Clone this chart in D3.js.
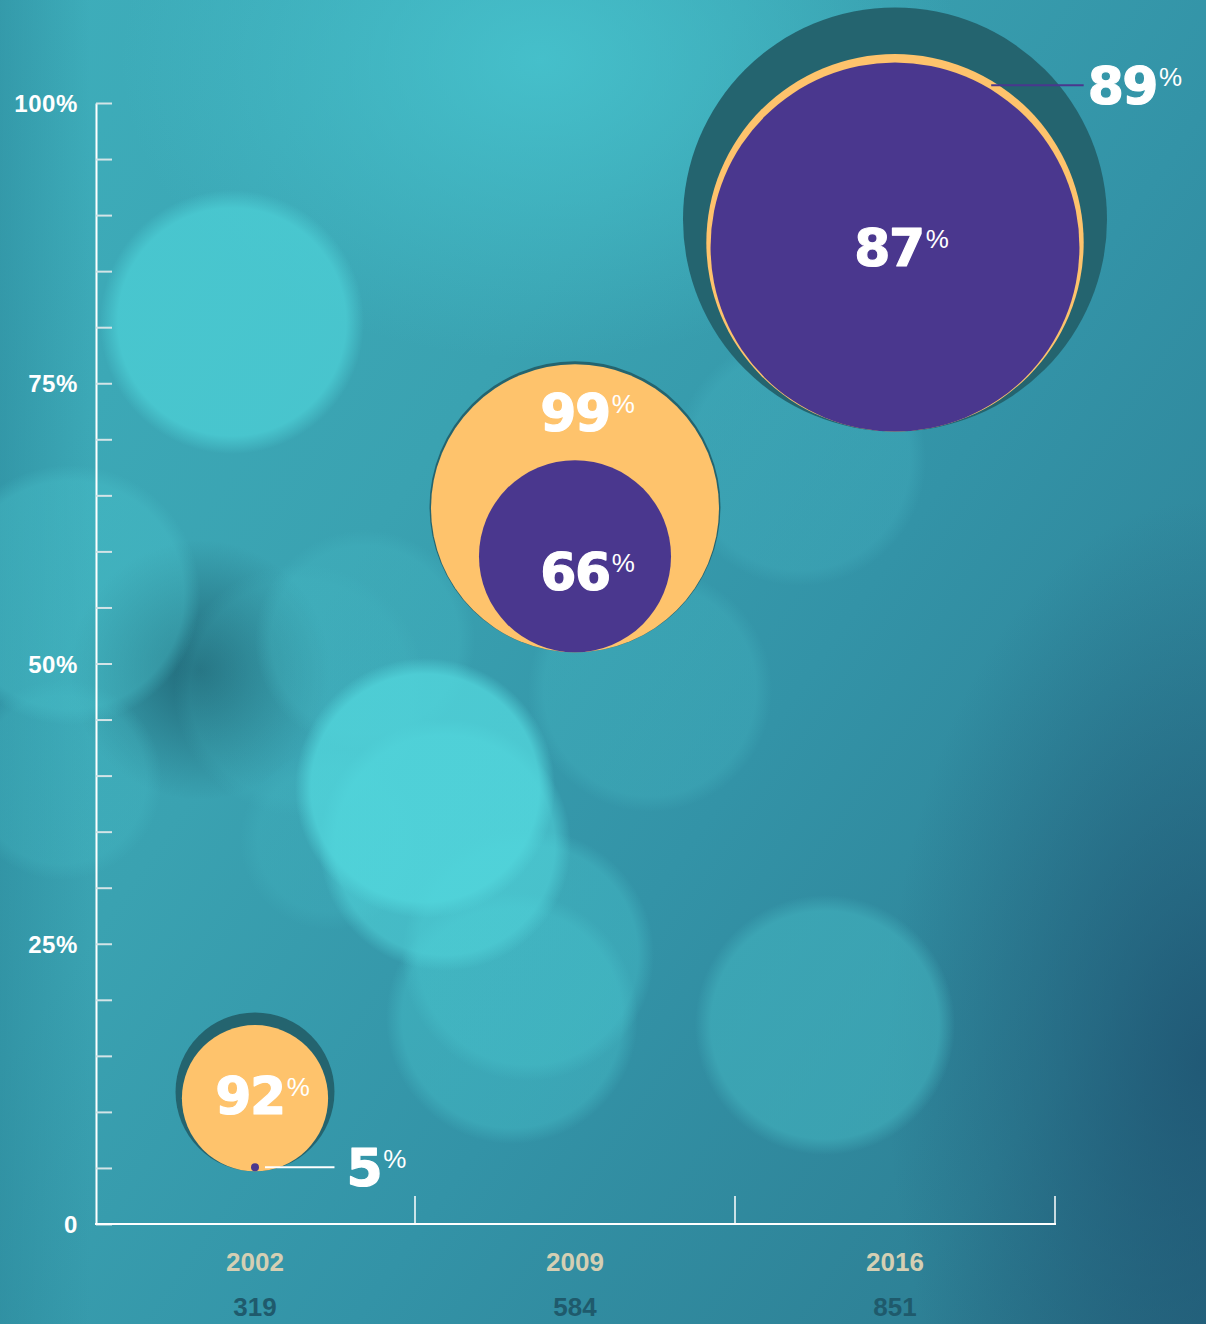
<!DOCTYPE html>
<html>
<head>
<meta charset="utf-8">
<script src="https://cdn.jsdelivr.net/npm/d3@7"></script>
<style>
html, body { margin: 0; padding: 0; }
body {
  width: 1206px; height: 1324px; overflow: hidden;
  background:
    radial-gradient(circle at 232px 322px, rgba(76,206,213,0.78) 0px, rgba(76,206,213,0.78) 114px, rgba(76,206,213,0) 132px),
    radial-gradient(circle at 425px 788px, rgba(82,214,220,0.78) 0px, rgba(82,214,220,0.78) 114px, rgba(82,214,220,0) 130px),
    radial-gradient(circle at 445px 845px, rgba(82,214,220,0.55) 0px, rgba(82,214,220,0.55) 110px, rgba(82,214,220,0) 126px),
    radial-gradient(circle at 528px 955px, rgba(72,196,205,0.40) 0px, rgba(72,196,205,0.40) 110px, rgba(72,196,205,0) 126px),
    radial-gradient(circle at 512px 1018px, rgba(72,196,205,0.40) 0px, rgba(72,196,205,0.40) 110px, rgba(72,196,205,0) 126px),
    radial-gradient(circle at 825px 1025px, rgba(66,178,190,0.62) 0px, rgba(66,178,190,0.62) 114px, rgba(66,178,190,0) 130px),
    radial-gradient(circle at 650px 690px, rgba(70,186,197,0.30) 0px, rgba(70,186,197,0.30) 106px, rgba(70,186,197,0) 122px),
    radial-gradient(circle at 365px 640px, rgba(70,186,197,0.30) 0px, rgba(70,186,197,0.30) 94px, rgba(70,186,197,0) 110px),
    radial-gradient(circle at 300px 690px, rgba(70,186,197,0.18) 0px, rgba(70,186,197,0.18) 110px, rgba(70,186,197,0) 126px),
    radial-gradient(circle at 800px 460px, rgba(70,182,196,0.30) 0px, rgba(70,182,196,0.30) 110px, rgba(70,182,196,0) 126px),
    radial-gradient(circle at 70px 595px, rgba(72,192,202,0.42) 0px, rgba(72,192,202,0.42) 114px, rgba(72,192,202,0) 130px),
    radial-gradient(circle at 62px 780px, rgba(72,192,202,0.25) 0px, rgba(72,192,202,0.25) 84px, rgba(72,192,202,0) 100px),
    radial-gradient(circle at 330px 840px, rgba(72,192,202,0.20) 0px, rgba(72,192,202,0.20) 72px, rgba(72,192,202,0) 90px),
    radial-gradient(circle at 200px 670px, rgba(24,84,100,0.75) 0px, rgba(24,84,100,0) 130px),
    radial-gradient(ellipse 420px 300px at 540px 60px, rgba(72,198,208,0.8), rgba(72,198,208,0)),
    radial-gradient(ellipse 320px 560px at 1206px 1060px, rgba(30,82,112,0.8), rgba(30,82,112,0)),
    linear-gradient(90deg, rgba(40,130,150,0.45) 0px, rgba(40,130,150,0) 90px),
    linear-gradient(125deg, #3eaebb 0%, #3aa2b1 35%, #3393a7 60%, #2e8297 85%, #276b83 100%);
}
svg { display: block; }
</style>
</head>
<body>
<svg id="chart" width="1206" height="1324"></svg>
<script>
// ---- data ----
const years = ["2002", "2009", "2016"];
const respondents = [319, 584, 851];
const outerPct = [92, 99, 89];     // yellow circles
const innerPct = [5, 66, 87];      // purple circles
const restLevel = [4.7, 51, 70.7]; // y-axis value on which each bubble group rests
const yTickValues = [0, 5, 10, 15, 20, 25, 30, 35, 40, 45, 50, 55, 60, 65, 70, 75, 80, 85, 90, 95, 100];
const yLabelValues = [0, 25, 50, 75, 100];
const yLabelText = ["0", "25%", "50%", "75%", "100%"];

// ---- styles ----
const C = { dark: "#24646f", yellow: "#fec36c", purple: "#4a378e", year: "#d5cfb3", count: "#1f5a6c" };
const numFont = "bold 52px 'DejaVu Sans', sans-serif";
const pctFont = "26px 'Liberation Sans', Arial, sans-serif";
const axisFont = "bold 24px 'Liberation Sans', Arial, sans-serif";
const catFont = "bold 26px 'Liberation Sans', Arial, sans-serif";

// ---- scales ----
const x = d3.scaleBand().domain(years).range([95, 1055]);
const y = d3.scaleLinear().domain([0, 100]).range([1224, 103]);
const r = d3.scaleLinear().domain([0, d3.max(respondents)]).range([0, 212]);

const svg = d3.select("#chart");

// ---- y axis ----
const yAxis = d3.axisLeft(y)
  .tickValues(yTickValues)
  .tickSizeInner(-16).tickSizeOuter(0).tickPadding(18)
  .tickFormat(v => { const i = yLabelValues.indexOf(v); return i >= 0 ? yLabelText[i] : ""; });
const gy = svg.append("g").attr("transform", "translate(96,0)").call(yAxis);
gy.select(".domain").attr("stroke", "#ffffff").attr("stroke-width", 2);
gy.selectAll(".tick line").attr("stroke", "#d3e4e7").attr("stroke-width", 2);
gy.selectAll(".tick text").attr("fill", "#ffffff").style("font", axisFont)
  .style("letter-spacing", "0.6px").attr("dy", "0.36em");

// ---- x axis ----
const gx = svg.append("g");
gx.append("line")
  .attr("x1", 95).attr("x2", x.range()[1] + 1)
  .attr("y1", y(0)).attr("y2", y(0))
  .attr("stroke", "#ffffff").attr("stroke-width", 2);
gx.selectAll("line.div").data(years).join("line").attr("class", "div")
  .attr("x1", d => x(d) + x.bandwidth()).attr("x2", d => x(d) + x.bandwidth())
  .attr("y1", y(0)).attr("y2", y(0) - 28)
  .attr("stroke", "#ffffff").attr("stroke-width", 1.5);
gx.selectAll("text.year").data(years).join("text").attr("class", "year")
  .attr("x", d => x(d) + x.bandwidth() / 2).attr("y", y(0) + 47)
  .attr("text-anchor", "middle").attr("fill", C.year).style("font", catFont)
  .text(d => d);
gx.selectAll("text.count").data(respondents).join("text").attr("class", "count")
  .attr("x", (d, i) => x(years[i]) + x.bandwidth() / 2).attr("y", y(0) + 92)
  .attr("text-anchor", "middle").attr("fill", C.count).style("font", catFont)
  .text(d => d);

// ---- label helper ----
function pctLabel(g, num, xPos, baseline, align) {
  const t = g.append("text").attr("y", baseline).attr("fill", "#ffffff");
  const n = t.append("tspan").text(num).style("font", numFont)
    .style("letter-spacing", "-1.5px")
    .attr("stroke", "#ffffff").attr("stroke-width", 1.2).attr("stroke-linejoin", "round");
  t.append("tspan").text("%").attr("dx", 2).attr("dy", -18).style("font", pctFont);
  const w = t.node().getSubStringLength(0, String(num).length);
  const x0 = align === "middle" ? xPos - w / 2 : xPos;
  n.attr("x", x0);
}

// ---- bubbles ----
const groups = years.map((yr, i) => {
  const n = respondents[i];
  return {
    year: yr, i,
    cx: x(yr) + x.bandwidth() / 2,
    bottom: y(restLevel[i]),
    r0: r(n),
    r1: r(n * outerPct[i] / 100),
    r2: r(n * innerPct[i] / 100),
    outer: outerPct[i], inner: innerPct[i]
  };
});

const gb = svg.append("g");
groups.forEach(g => {
  const grp = gb.append("g");
  grp.append("circle").attr("cx", g.cx).attr("cy", g.bottom - g.r0).attr("r", g.r0).attr("fill", C.dark);
  grp.append("circle").attr("cx", g.cx).attr("cy", g.bottom - g.r1).attr("r", g.r1).attr("fill", C.yellow);
  grp.append("circle").attr("cx", g.cx).attr("cy", g.bottom - g.r2).attr("r", g.r2).attr("fill", C.purple);

  const cy1 = g.bottom - g.r1, cy2 = g.bottom - g.r2;
  const ring = g.r1 - g.r2;
  if (g.r2 < 12) {
    grp.append("line").attr("x1", g.cx + 10).attr("x2", g.cx + g.r0)
      .attr("y1", cy2).attr("y2", cy2).attr("stroke", "#ffffff").attr("stroke-width", 2);
    pctLabel(grp, g.inner, g.cx + g.r0 + 12, cy2 + 19, "start");
    pctLabel(grp, g.outer, g.cx - 5, cy1 + 16, "middle");
  } else if (ring > 20) {
    const band = ((g.bottom - 2 * g.r1) + (g.bottom - 2 * g.r2)) / 2;
    pctLabel(grp, g.outer, g.cx, band + 19, "middle");
    pctLabel(grp, g.inner, g.cx, cy2 + 34, "middle");
  } else {
    const ly = cy1 - g.r1 * 0.835;
    const e1 = Math.sqrt(g.r1 * g.r1 - (ly - cy1) * (ly - cy1));
    const e2 = Math.sqrt(Math.max(0, g.r2 * g.r2 - (ly - cy2) * (ly - cy2)));
    const xs = g.cx + (e1 + e2) / 2;
    const xe = g.cx + g.r1;
    grp.append("line").attr("x1", xs).attr("x2", xe).attr("y1", ly).attr("y2", ly)
      .attr("stroke", C.purple).attr("stroke-width", 2);
    pctLabel(grp, g.outer, xe + 4, ly + 19, "start");
    pctLabel(grp, g.inner, g.cx - 6, cy2 + 19, "middle");
  }
});
</script>
</body>
</html>
